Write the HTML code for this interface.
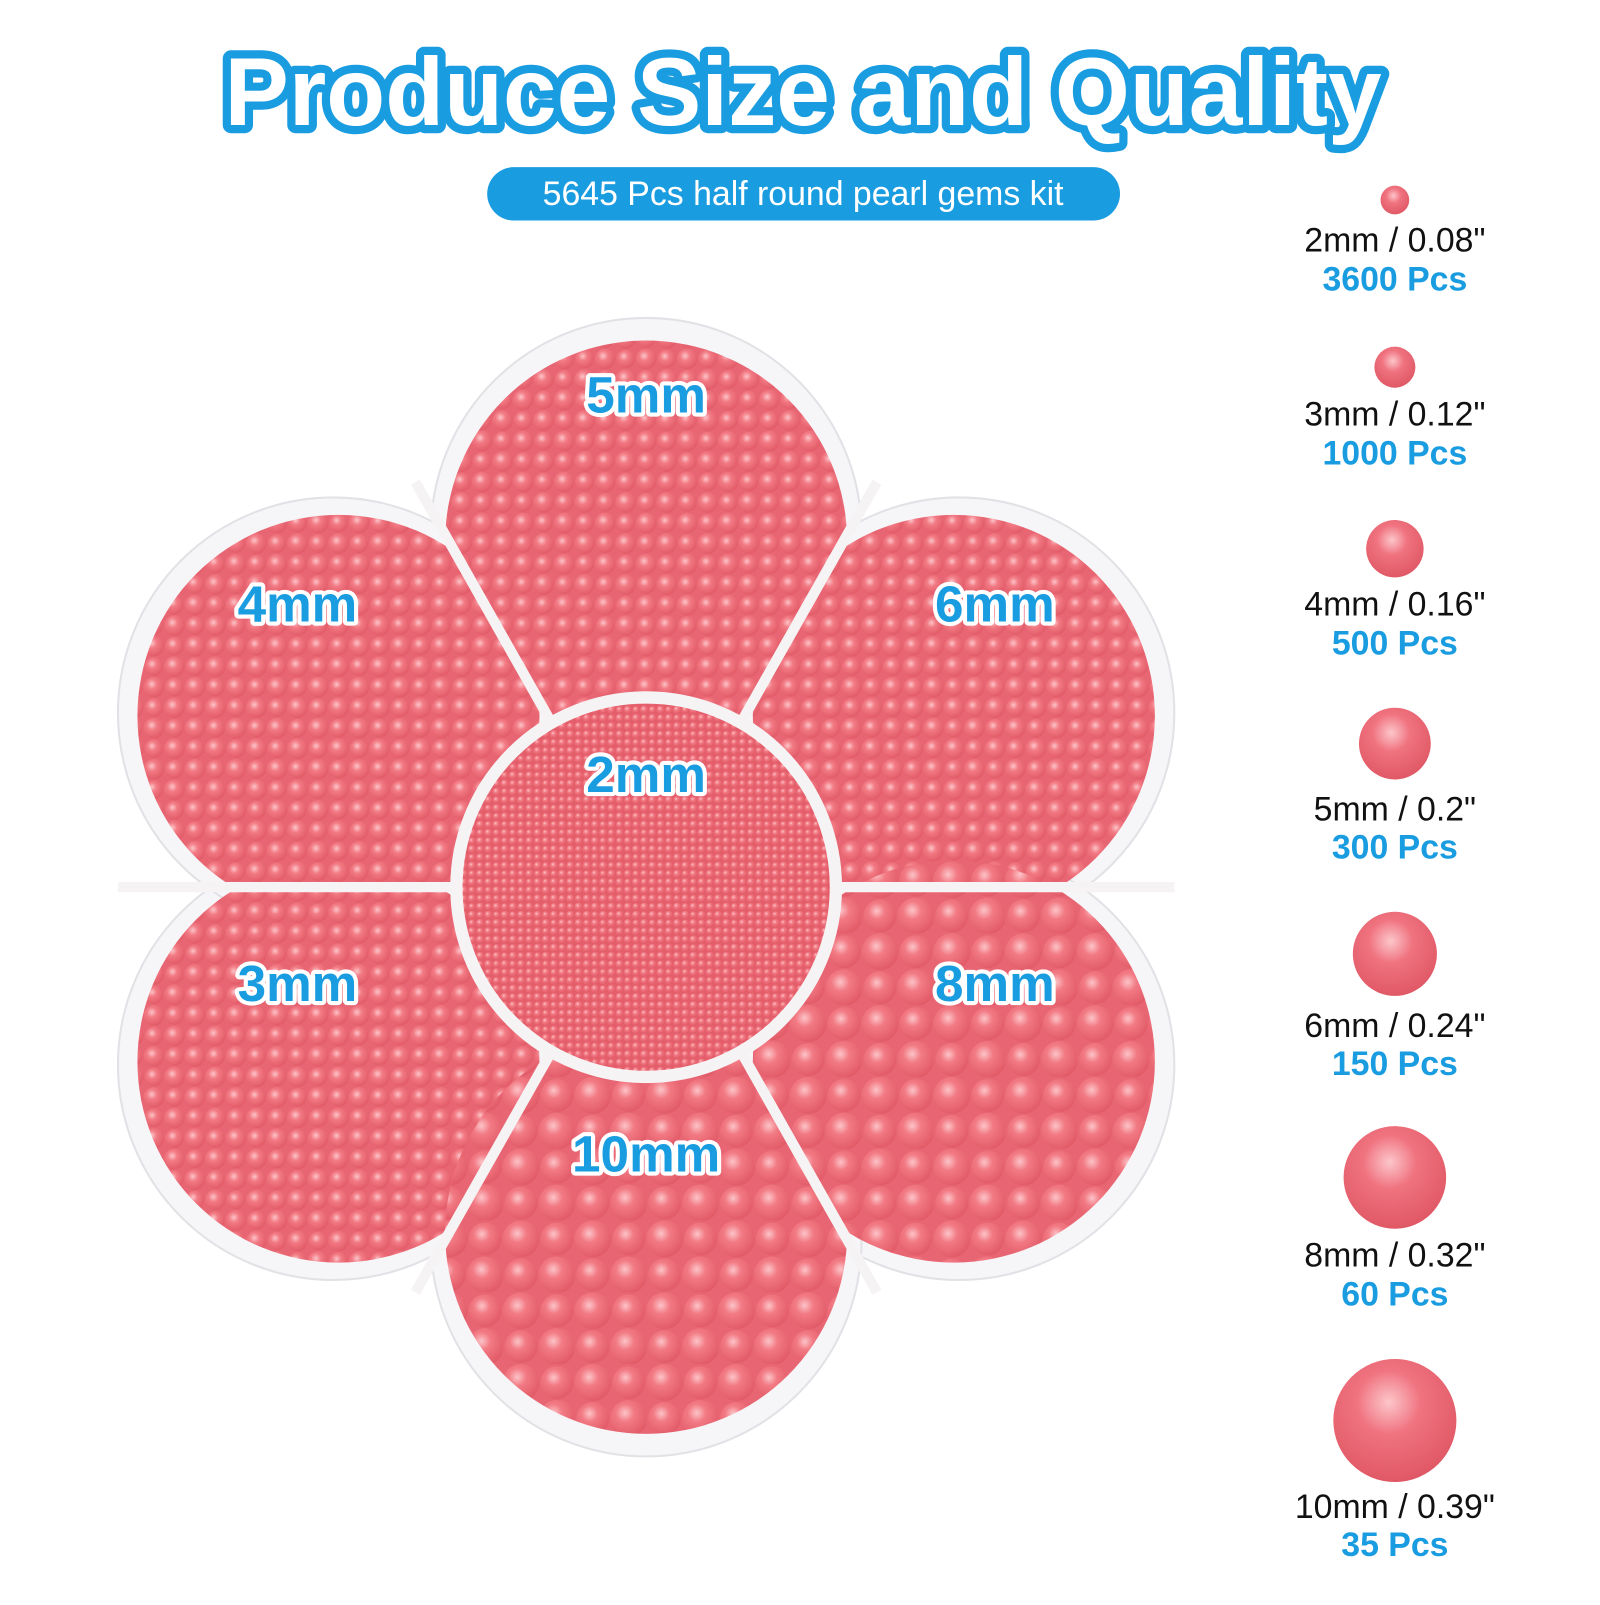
<!DOCTYPE html>
<html><head><style>
body{margin:0;background:#fff;width:1600px;height:1600px;overflow:hidden;font-family:"Liberation Sans",sans-serif}
</style></head><body>
<svg width="1600" height="1600" viewBox="0 0 1560 1560" xmlns="http://www.w3.org/2000/svg">
<defs>
<radialGradient id="pg" cx="0.4" cy="0.35" r="0.7">
<stop offset="0" stop-color="#fcc4c8"/><stop offset="0.35" stop-color="#f27a84"/><stop offset="1" stop-color="#e05865"/>
</radialGradient>
<pattern id="pat" width="40" height="40" patternUnits="userSpaceOnUse">
<rect width="40" height="40" fill="#e86673"/>
<circle cx="10" cy="10" r="10" fill="url(#pg)"/><circle cx="30" cy="30" r="10" fill="url(#pg)"/>
<circle cx="30" cy="10" r="9" fill="url(#pg)"/><circle cx="10" cy="30" r="9" fill="url(#pg)"/>
</pattern>
<pattern id="pat2" width="16" height="16" patternUnits="userSpaceOnUse">
<rect width="16" height="16" fill="#e45d6a"/>
<circle cx="4" cy="4" r="4" fill="url(#pg)"/><circle cx="12" cy="12" r="4" fill="url(#pg)"/>
<circle cx="12" cy="4" r="3.5" fill="url(#pg)"/><circle cx="4" cy="12" r="3.5" fill="url(#pg)"/>
</pattern>
<pattern id="pat3" width="70" height="70" patternUnits="userSpaceOnUse">
<rect width="70" height="70" fill="#e86673"/>
<circle cx="18" cy="18" r="18" fill="url(#pg)"/><circle cx="53" cy="53" r="18" fill="url(#pg)"/>
<circle cx="53" cy="18" r="16" fill="url(#pg)"/><circle cx="18" cy="53" r="16" fill="url(#pg)"/>
</pattern>
<radialGradient id="bead" cx="0.45" cy="0.35" r="0.65">
<stop offset="0" stop-color="#fcc6ca"/><stop offset="0.4" stop-color="#f07380"/><stop offset="1" stop-color="#e05865"/>
</radialGradient>
</defs>

<text x="783" y="122" text-anchor="middle" font-family="Liberation Sans" font-weight="bold" font-size="94" fill="#fff" stroke="#1a9ce0" stroke-width="16" stroke-linejoin="round" paint-order="stroke">Produce Size and Quality</text>
<rect x="475" y="163" width="617" height="52" rx="26" fill="#1a9ce0"/>
<text x="783" y="200" text-anchor="middle" font-size="33" fill="#fff">5645 Pcs half round pearl gems kit</text>

<g fill="#f6f6f8" stroke="#e2e2e6" stroke-width="2">
<circle cx="630" cy="520" r="210"/><circle cx="935" cy="695" r="210"/><circle cx="935" cy="1038" r="210"/>
<circle cx="630" cy="1210" r="210"/><circle cx="325" cy="1038" r="210"/><circle cx="325" cy="695" r="210"/>
</g>
<circle cx="630" cy="865" r="320" fill="#f6f6f8"/>
<g>
<circle cx="630" cy="528" r="196" fill="url(#pat)"/>
<circle cx="930" cy="698" r="196" fill="url(#pat)"/>
<circle cx="330" cy="1035" r="196" fill="url(#pat)"/>
<circle cx="330" cy="698" r="196" fill="url(#pat)"/>
<circle cx="930" cy="1035" r="196" fill="url(#pat3)"/>
<circle cx="630" cy="1202" r="196" fill="url(#pat3)"/>
</g>
<g stroke="#f6f3f4" stroke-width="10">
<line x1="440" y1="865" x2="115" y2="865"/><line x1="820" y1="865" x2="1145" y2="865"/>
<line x1="535" y1="700" x2="405" y2="470"/><line x1="725" y1="700" x2="855" y2="470"/>
<line x1="535" y1="1030" x2="405" y2="1260"/><line x1="725" y1="1030" x2="855" y2="1260"/>
</g>
<circle cx="630" cy="865" r="185" fill="url(#pat2)" stroke="#f6f3f4" stroke-width="12"/>

<g font-family="Liberation Sans" font-weight="bold" font-size="50" fill="#1a9ce0" stroke="#fff" stroke-width="8" stroke-linejoin="round" paint-order="stroke" text-anchor="middle">
<text x="630" y="402">5mm</text><text x="290" y="606">4mm</text><text x="970" y="606">6mm</text>
<text x="630" y="772">2mm</text><text x="290" y="976">3mm</text><text x="970" y="976">8mm</text>
<text x="630" y="1142">10mm</text>
</g>

<g fill="url(#bead)">
<circle cx="1360" cy="195" r="14"/><circle cx="1360" cy="358" r="20"/><circle cx="1360" cy="535" r="28"/>
<circle cx="1360" cy="725" r="35"/><circle cx="1360" cy="930" r="41"/><circle cx="1360" cy="1148" r="50"/>
<circle cx="1360" cy="1385" r="60"/>
</g>
<g font-family="Liberation Sans" font-size="33" text-anchor="middle">
<text x="1360" y="245" fill="#111">2mm / 0.08"</text><text x="1360" y="283" fill="#1a9ce0" font-weight="bold">3600 Pcs</text>
<text x="1360" y="415" fill="#111">3mm / 0.12"</text><text x="1360" y="453" fill="#1a9ce0" font-weight="bold">1000 Pcs</text>
<text x="1360" y="600" fill="#111">4mm / 0.16"</text><text x="1360" y="638" fill="#1a9ce0" font-weight="bold">500 Pcs</text>
<text x="1360" y="800" fill="#111">5mm / 0.2"</text><text x="1360" y="837" fill="#1a9ce0" font-weight="bold">300 Pcs</text>
<text x="1360" y="1011" fill="#111">6mm / 0.24"</text><text x="1360" y="1048" fill="#1a9ce0" font-weight="bold">150 Pcs</text>
<text x="1360" y="1235" fill="#111">8mm / 0.32"</text><text x="1360" y="1273" fill="#1a9ce0" font-weight="bold">60 Pcs</text>
<text x="1360" y="1480" fill="#111">10mm / 0.39"</text><text x="1360" y="1517" fill="#1a9ce0" font-weight="bold">35 Pcs</text>
</g>
</svg>
</body></html>
